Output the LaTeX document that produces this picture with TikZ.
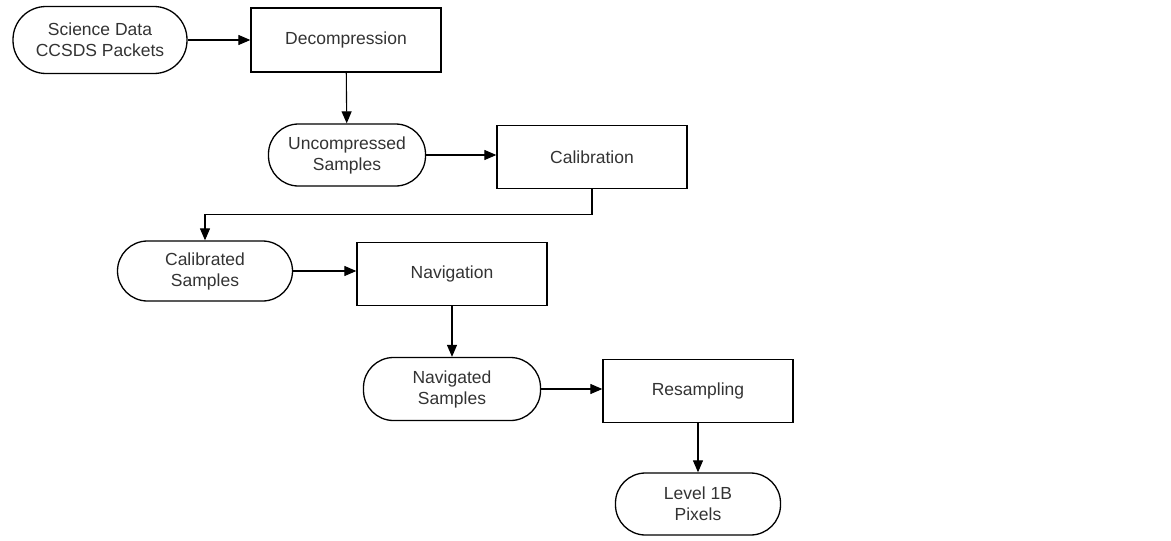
\documentclass[tikz,border=0pt]{standalone}
\usepackage{fontspec}
\setmainfont{Liberation Sans}
\usetikzlibrary{arrows.meta}
\begin{document}
\begin{tikzpicture}[x=1pt,y=-1pt,
  lbl/.style={font=\fontsize{17.5}{21}\selectfont, text=black!80, align=center, inner sep=0pt},
  datanode/.style={lbl, draw, line width=1.3pt, rounded corners=30pt, minimum width=175pt, minimum height=62pt},
  procnode/.style={lbl, draw, line width=1.3pt, minimum width=190pt, minimum height=63pt},
  flow/.style={line width=1.1pt, -{Triangle[length=12pt,width=10pt]}}]
\useasboundingbox (0,0) rectangle (1171,541);
\node[datanode, minimum width=174pt, minimum height=67pt, rounded corners=33pt] (sci) at (100,40) {Science Data\\CCSDS Packets};
\node[procnode, minimum height=64pt] (dec) at (346,40) {Decompression};
\node[datanode, minimum width=157pt] (unc) at (347,155) {Uncompressed\\Samples};
\node[procnode] (cal) at (592,157) {Calibration};
\node[datanode, minimum height=60pt] (cals) at (205,271) {Calibrated\\Samples};
\node[procnode] (nav) at (452,274) {Navigation};
\node[datanode, minimum width=177pt, minimum height=63pt] (navs) at (452,389) {Navigated\\Samples};
\node[procnode] (res) at (698,391) {Resampling};
\node[datanode, minimum width=165pt] (lev) at (698,504) {Level 1B\\Pixels};
\draw[flow] (sci) -- (sci -| dec.west);
\draw[flow] (dec) -- (unc);
\draw[flow] (unc) -- (unc -| cal.west);
\draw[flow] (cal.south) -- ++(0,25) -| (cals.north);
\draw[flow] (cals) -- (cals -| nav.west);
\draw[flow] (nav) -- (navs);
\draw[flow] (navs) -- (navs -| res.west);
\draw[flow] (res) -- (lev);
\end{tikzpicture}
\end{document}
